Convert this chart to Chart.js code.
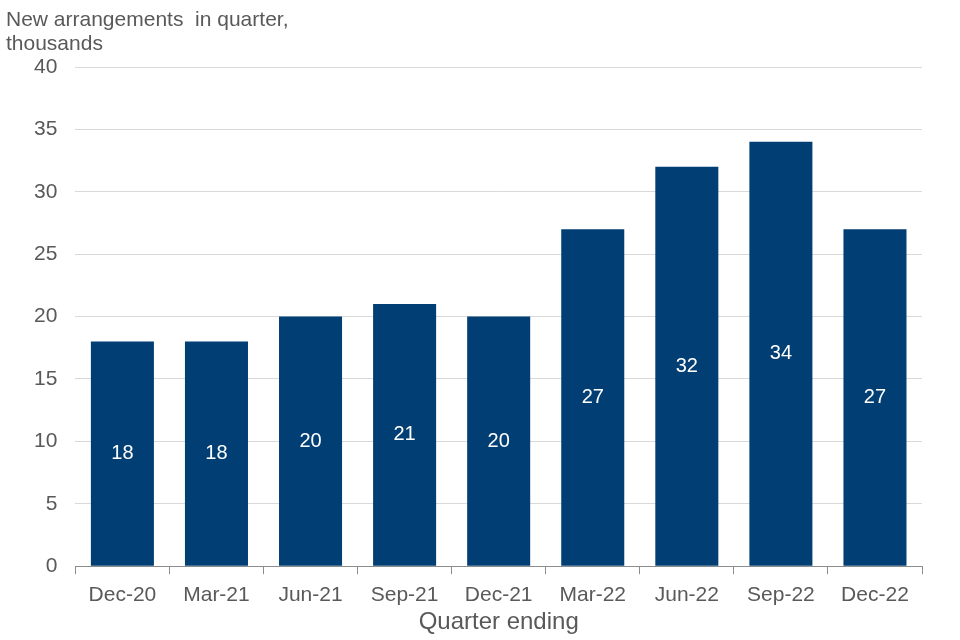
<!DOCTYPE html>
<html>
<head>
<meta charset="utf-8">
<script src="https://cdn.jsdelivr.net/npm/chart.js@4"></script>
<style>
  body { margin: 0; background: #fff; }
  #wrap { width: 960px; height: 640px; }
</style>
</head>
<body>
<div id="wrap"><canvas id="chart" width="960" height="640"></canvas></div>
<script>
const quarters = ["Dec-20", "Mar-21", "Jun-21", "Sep-21", "Dec-21", "Mar-22", "Jun-22", "Sep-22", "Dec-22"];
const arrangements = [18, 18, 20, 21, 20, 27, 32, 34, 27];
const yTicks = [0, 5, 10, 15, 20, 25, 30, 35, 40];
const yTitle = ["New arrangements  in quarter,", "thousands"];

const textColor = "#595959";
const barColor = "#003e74";
const fontFamily = "'Liberation Sans', Arial, sans-serif";

// values written in the middle of each bar
const barLabels = {
    id: "barLabels",
    afterDatasetsDraw(chart) {
        const ctx = chart.ctx;
        const meta = chart.getDatasetMeta(0);
        ctx.save();
        ctx.fillStyle = "#ffffff";
        ctx.font = "20px " + fontFamily;
        ctx.textAlign = "center";
        ctx.textBaseline = "middle";
        meta.data.forEach((bar, i) => {
            ctx.fillText(arrangements[i], bar.x, (bar.y + bar.base) / 2);
        });
        ctx.restore();
    }
};

// y axis title sits flat above the axis, at the very left
const topTitle = {
    id: "topTitle",
    afterDraw(chart) {
        const ctx = chart.ctx;
        ctx.save();
        ctx.fillStyle = textColor;
        ctx.font = "21px " + fontFamily;
        ctx.textAlign = "left";
        ctx.textBaseline = "middle";
        yTitle.forEach((line, i) => ctx.fillText(line, 6, 20 + i * 24));
        ctx.restore();
    }
};

const ctx = document.getElementById("chart").getContext("2d");
new Chart(ctx, {
    type: "bar",
    data: {
        labels: quarters,
        datasets: [{
            data: arrangements,
            backgroundColor: barColor,
            barPercentage: 0.67,
            categoryPercentage: 1.0
        }]
    },
    options: {
        responsive: false,
        animation: false,
        layout: { padding: { left: 16, right: 38, top: 67, bottom: 10 } },
        plugins: {
            legend: { display: false },
            tooltip: { enabled: false },
            title: { display: false }
        },
        scales: {
            x: {
                grid: {
                    offset: true,
                    drawOnChartArea: false,
                    drawTicks: true,
                    tickLength: 8,
                    color: "#8c8c8c"
                },
                border: { color: "#8c8c8c" },
                ticks: {
                    color: textColor,
                    font: { family: fontFamily, size: 21 },
                    padding: 8,
                    maxRotation: 0
                },
                title: {
                    display: true,
                    text: "Quarter ending",
                    color: textColor,
                    font: { family: fontFamily, size: 24, lineHeight: 0.61 },
                    padding: { top: 0, bottom: 0 }
                }
            },
            y: {
                min: 0,
                max: 40,
                afterBuildTicks(axis) {
                    axis.ticks = yTicks.map(v => ({ value: v }));
                },
                grid: {
                    color: "#d9d9d9",
                    drawTicks: false
                },
                border: { display: false },
                ticks: {
                    color: textColor,
                    font: { family: fontFamily, size: 21 },
                    padding: 18
                }
            }
        }
    },
    plugins: [barLabels, topTitle]
});
</script>
</body>
</html>
